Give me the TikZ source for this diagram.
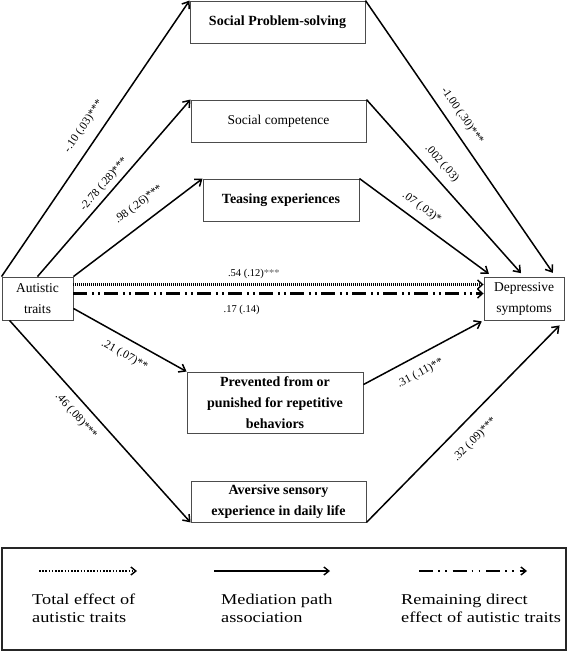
\documentclass[tikz,border=0pt]{standalone}
\usepackage{fontspec}
\setmainfont{Liberation Serif}
\newfontfamily\legendfont[FakeStretch=1.22]{Liberation Serif}
\usetikzlibrary{arrows.meta}

\begin{document}
\begin{tikzpicture}[
            x=1pt, y=-1pt,
            box/.style={
                rectangle,
                draw=black!70,
                line width=0.9pt,
                inner sep=0pt,
                align=center,
                font=\fontsize{13.5}{21}\selectfont
            },
            mediator/.style={
                box,
                font=\fontsize{14}{21}\selectfont\bfseries
            },
            legtext/.style={
                anchor=north west,
                inner sep=0pt,
                align=left,
                font=\legendfont\fontsize{15}{18}\selectfont
            },
            coef/.style={font=\fontsize{11.5}{12}\selectfont, inner sep=1pt, sloped},
            coefsmall/.style={font=\fontsize{10.5}{11}\selectfont, inner sep=1pt},
            path/.style={-{Straight Barb[length=6pt,width=9pt,line width=1.5pt]}, line width=1.5pt},
            total/.style={-{Straight Barb[length=5pt,width=9pt,line width=1.4pt]}, line width=2.2pt,
                dash pattern=on 1pt off 1pt},
            direct/.style={-{Straight Barb[length=5pt,width=9pt,line width=1.4pt]}, line width=2.8pt,
                dash pattern=on 14pt off 4.5pt on 2pt off 4pt on 2pt off 4.5pt},
            totalkey/.style={-{Straight Barb[length=5pt,width=8pt,line width=1.4pt]}, line width=1.6pt,
                dash pattern=on 1.5pt off 1.7pt},
            pathkey/.style={-{Straight Barb[length=5pt,width=8pt,line width=1.4pt]}, line width=1.6pt},
            directkey/.style={-{Straight Barb[length=5pt,width=8pt,line width=1.4pt]}, line width=1.6pt,
                dash pattern=on 14pt off 5pt on 1.5pt off 5.5pt on 1.5pt off 6pt}
        ]
        \useasboundingbox (0,0) rectangle (568,652);

        % Predictor and outcome
        \node[box, minimum width=71pt, minimum height=43pt] (aut) at (37.5,298.5) {Autistic\\traits};
        \node[box, minimum width=80pt, minimum height=43pt] (dep) at (524,298.5) {Depressive\\symptoms};

        % Mediators above
        \node[mediator, minimum width=175pt, minimum height=42pt] (sps) at (277.5,22) {Social Problem-solving};
        \node[box, minimum width=175pt, minimum height=42pt] (sc) at (278.5,121) {Social competence};
        \node[mediator, minimum width=156pt, minimum height=42pt] (tease) at (281,200) {Teasing experiences};

        % Mediators below
        \node[mediator, minimum width=176pt, minimum height=61pt] (prev) at (275,402.5) {Prevented from or\\punished for repetitive\\behaviors};
        \node[mediator, minimum width=175pt, minimum height=41pt] (avers) at (278.5,501.5) {Aversive sensory\\experience in daily life};

        % Paths a
        \draw[path] (aut.north west) -- node[coef, pos=0.51, above=9.5pt] {-.10 (.03)***} (sps.north west);
        \draw[path] (aut.north) -- node[coef, pos=0.485, above=3pt] {-2.78 (.28)***} (sc.north west);
        \draw[path] (aut.north east) -- node[coef, pos=0.59, above=11pt] {.98 (.26)***} (tease.north west);
        \draw[path] ([yshift=12pt]aut.south east) -- node[coef, pos=0.52, below=9pt] {.21 (.07)**} (prev.north west);
        \draw[path] ([xshift=8pt]aut.south west) -- node[coef, pos=0.426, below=7.3pt] {.46 (.08)***} (avers.south west);

        % Paths b
        \draw[path, shorten >=4.5pt] (sps.north east) -- node[coef, pos=0.447, above=7.2pt] {-1.00 (.30)***} ([xshift=-9pt]dep.north east);
        \draw[path, shorten >=4.5pt] (sc.north east) -- node[coef, pos=0.414, above=6.7pt] {.002 (.03)} (dep.north);
        \draw[path, shorten >=4.5pt] (tease.north east) -- node[coef, pos=0.408, above=6.5pt] {.07 (.03)*} ([xshift=9pt]dep.north west);
        \draw[path, shorten >=2pt] ([yshift=-13pt]prev.north east) -- node[coef, pos=0.407, below=10pt] {.31 (.11)**} (dep.south west);
        \draw[path, shorten >=7pt] (avers.south east) -- node[coef, pos=0.478, below=12.5pt] {.32 (.09)***} (dep.south east);

        % Total and direct effect
        \draw[total] ([yshift=14pt]aut.east) -- node[coefsmall, pos=0.44, above=4pt] {.54 (.12)\textcolor{black!60}{***}} ([yshift=14pt]dep.west);
        \draw[direct] ([yshift=5pt]aut.east) -- node[coefsmall, pos=0.41, below=9pt] {.17 (.14)} ([yshift=5pt]dep.west);

        % Legend
        \node[box, draw=black!85, line width=1.2pt, minimum width=564pt, minimum height=102pt] (legend) at (284,599) {};
        \node[legtext] (lt1) at (32,594) {Total effect of\\autistic traits};
        \node[legtext] (lt2) at (221,594) {Mediation path\\association};
        \node[legtext] (lt3) at (401,594) {Remaining direct\\effect of autistic traits};
        \coordinate (k1s) at (39,571);
        \coordinate (k1e) at (137,571);
        \coordinate (k2s) at (214,571);
        \coordinate (k2e) at (330,571);
        \coordinate (k3s) at (419,571);
        \coordinate (k3e) at (527,571);
        \draw[totalkey] (k1s) -- (k1e);
        \draw[pathkey] (k2s) -- (k2e);
        \draw[directkey] (k3s) -- (k3e);

\end{tikzpicture}
\end{document}
